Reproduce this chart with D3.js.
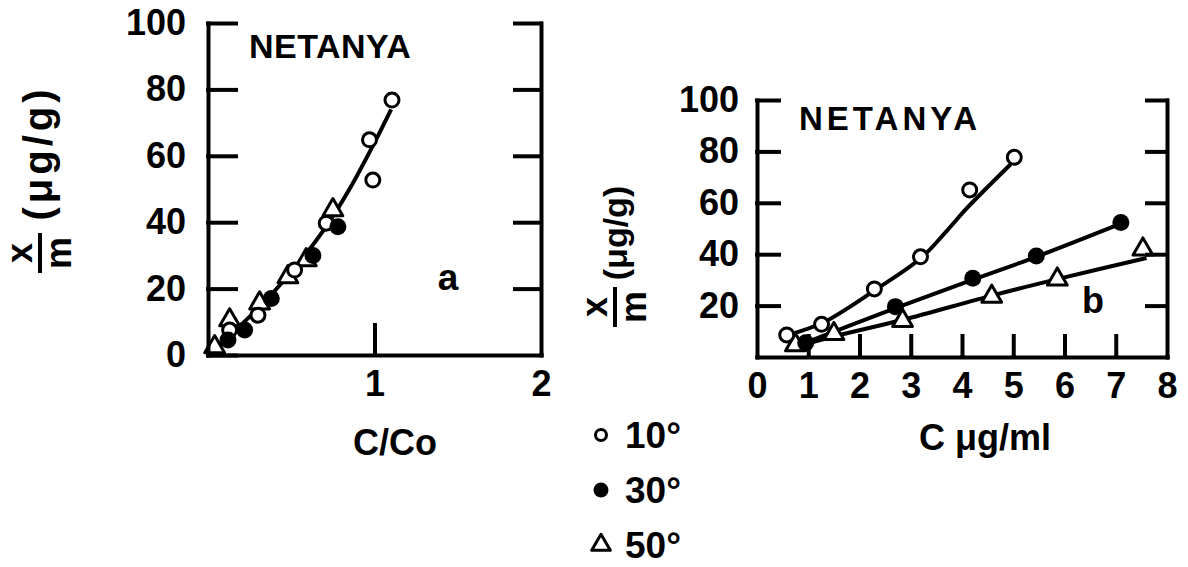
<!DOCTYPE html>
<html>
<head>
<meta charset="utf-8">
<script src="https://cdn.jsdelivr.net/npm/d3@7"></script>
<style>
    body { margin: 0; background: #fff; }
    svg text { font-family: "Liberation Sans", Arial, sans-serif; font-weight: bold; fill: #000; }
</style>
</head>
<body>
<script>
// ---- data ----
var legendLabels = ["10°", "30°", "50°"];

var leftYTicks = [0, 20, 40, 60, 80, 100];
var leftXTicks = [1, 2];
var rightYTicks = [20, 40, 60, 80, 100];
var rightXTicks = [0, 1, 2, 3, 4, 5, 6, 7, 8];

// panel a: x/m vs C/Co
var aOpen   = [[1.105, 76.8], [0.97, 64.8], [0.99, 52.7], [0.71, 39.7], [0.52, 25.6], [0.30, 12], [0.13, 7.5]];
var aFilled = [[0.78, 38.6], [0.63, 30], [0.38, 17], [0.22, 7.5], [0.12, 4.5]];
var aTri    = [[0.75, 43.7], [0.59, 28.6], [0.48, 23.5], [0.31, 15.6], [0.13, 10.5], [0.04, 2.4]];
var aCurve  = [[0, 0], [0.3, 14], [0.5, 25], [0.7, 38], [0.85, 50], [1.0, 64], [1.1, 74]];

// panel b: x/m vs C (ug/ml)
var bOpen   = [[0.58, 8.6], [1.26, 12.7], [2.29, 26.5], [3.19, 39], [4.15, 65], [5.02, 77.7]];
var bFilled = [[0.95, 5.5], [2.7, 19.6], [4.21, 30.6], [5.45, 39.3], [7.1, 52.3]];
var bTri    = [[0.75, 4.7], [1.5, 9], [2.84, 14.1], [4.58, 23.5], [5.86, 30.2], [7.53, 41.9]];
var bCurve10 = [[0.6, 8.5], [1.3, 13.5], [2.3, 26], [3.2, 38.5], [3.7, 49], [4.1, 58], [4.95, 75]];
var bCurve30 = [[0.75, 4], [2.7, 19], [4.2, 30], [5.45, 39], [7.05, 51.5]];
var bCurve50 = [[0.75, 4], [1.5, 8], [2.85, 14.5], [4.6, 24], [5.9, 30.5], [7.6, 38.5]];

(function(){

    var svg = d3.select("body")
        .append("svg")
        .attr("width", 1188)
        .attr("height", 567);

    // panel a
    var xA = d3.scaleLinear().domain([0, 2]).range([208, 541]);
    var yA = d3.scaleLinear().domain([0, 100]).range([355, 23]);

    drawCurve(svg, aCurve, xA, yA);
    drawPoints(svg, aTri, xA, yA, "tri");
    drawPoints(svg, aOpen, xA, yA, "open");
    drawPoints(svg, aFilled, xA, yA, "filled");
    drawAxes(svg, xA, yA, {
        yTicks: leftYTicks, xTicks: leftXTicks,
        yTick: 28, yTickR: 26, xTick: 30, yPad: 22, xPad: 15,
        yTickRight: [20, 40, 60, 80, 100], xTickMarks: [1]
    });

    svg.append("text").attr("x", 249).attr("y", 58)
        .attr("font-size", 34).attr("letter-spacing", 0.5)
        .text("NETANYA");
    svg.append("text").attr("x", 448).attr("y", 290)
        .attr("text-anchor", "middle").attr("font-size", 37)
        .text("a");
    svg.append("text").attr("x", 395).attr("y", 455)
        .attr("text-anchor", "middle").attr("font-size", 36)
        .text("C/Co");
    yLabel(svg, 40, 253, 100, 40, 4);

    // panel b
    var xB = d3.scaleLinear().domain([0, 8]).range([757, 1167]);
    var yB = d3.scaleLinear().domain([0, 100]).range([357, 100]);

    drawCurve(svg, bCurve10, xB, yB);
    drawCurve(svg, bCurve30, xB, yB);
    drawCurve(svg, bCurve50, xB, yB);
    drawPoints(svg, bTri, xB, yB, "tri");
    drawPoints(svg, bOpen, xB, yB, "open");
    drawPoints(svg, bFilled, xB, yB, "filled");
    drawAxes(svg, xB, yB, {
        yTicks: rightYTicks, xTicks: rightXTicks,
        yTick: 22, yTickR: 20, xTick: 21, yPad: 18, xPad: 15,
        yTickRight: rightYTicks, xTickMarks: [1, 2, 3, 4, 5, 6, 7]
    });

    svg.append("text").attr("x", 799).attr("y", 130)
        .attr("font-size", 33).attr("letter-spacing", 4)
        .text("NETANYA");
    svg.append("text").attr("x", 1093).attr("y", 313)
        .attr("text-anchor", "middle").attr("font-size", 36)
        .text("b");
    svg.append("text").attr("x", 985).attr("y", 450)
        .attr("text-anchor", "middle").attr("font-size", 36)
        .text("C μg/ml");
    yLabel(svg, 615, 307, 74, 34, 0);

    // legend
    var types = ["open", "filled", "tri"];
    var legend = svg.selectAll(".legend")
        .data(legendLabels)
        .enter()
        .append("g")
        .attr("class", "legend")
        .attr("transform", function(d, i) {
            return "translate(601," + (435 + i * 55) + ")";
        });
    legend.each(function(d, i) {
        marker(d3.select(this), 0, 0, types[i], true);
    });
    legend.append("text")
        .attr("x", 24)
        .attr("y", 13)
        .attr("font-size", 37)
        .text(function(d) { return d; });


    function drawCurve(svg, pts, x, y) {
        var line = d3.line()
            .x(function(d) { return x(d[0]); })
            .y(function(d) { return y(d[1]); })
            .curve(d3.curveCatmullRom);
        svg.append("path")
            .attr("d", line(pts))
            .attr("fill", "none")
            .attr("stroke", "#000")
            .attr("stroke-width", 4);
    }

    function drawPoints(svg, pts, x, y, type) {
        pts.forEach(function(d) {
            marker(svg, x(d[0]), y(d[1]), type, false);
        });
    }

    function marker(sel, cx, cy, type, small) {
        if (type == "open") {
            sel.append("circle")
                .attr("cx", cx).attr("cy", cy)
                .attr("r", small ? 5.5 : 7)
                .attr("fill", "#fff")
                .attr("stroke", "#000")
                .attr("stroke-width", 3);
        } else if (type == "filled") {
            sel.append("circle")
                .attr("cx", cx).attr("cy", cy)
                .attr("r", small ? 7.5 : 8.5)
                .attr("fill", "#000");
        } else {
            sel.append("path")
                .attr("d", d3.symbol().type(d3.symbolTriangle).size(small ? 150 : 170)())
                .attr("transform", "translate(" + cx + "," + cy + ")")
                .attr("fill", "#fff")
                .attr("stroke", "#000")
                .attr("stroke-width", 3)
                .attr("stroke-linejoin", "round");
        }
    }

    function drawAxes(svg, x, y, o) {
        var x0 = x.range()[0], x1 = x.range()[1], y0 = y.range()[0];

        var left = svg.append("g")
            .attr("transform", "translate(" + x0 + ",0)")
            .call(d3.axisLeft(y).tickValues(o.yTicks).tickFormat(d3.format("d"))
                .tickSizeInner(-o.yTick).tickSizeOuter(0).tickPadding(o.yPad));

        var right = svg.append("g")
            .attr("transform", "translate(" + x1 + ",0)")
            .call(d3.axisRight(y).tickValues(o.yTickRight).tickFormat("")
                .tickSizeInner(-o.yTickR).tickSizeOuter(0));

        var bottom = svg.append("g")
            .attr("transform", "translate(0," + y0 + ")")
            .call(d3.axisBottom(x).tickValues(o.xTicks).tickFormat(d3.format("d"))
                .tickSizeInner(0).tickSizeOuter(0).tickPadding(o.xPad));

        var marks = svg.append("g")
            .attr("transform", "translate(0," + y0 + ")")
            .call(d3.axisBottom(x).tickValues(o.xTickMarks).tickFormat("")
                .tickSizeInner(-o.xTick).tickSizeOuter(0));
        marks.select(".domain").remove();

        [left, right, bottom, marks].forEach(function(g) {
            g.attr("font-size", 36)
                .attr("font-family", "Liberation Sans, Arial, sans-serif");
            g.selectAll("path, line")
                .attr("stroke", "#000")
                .attr("stroke-width", 4)
                .attr("stroke-linecap", "square");
        });
    }

    function yLabel(svg, cx, cy, shift, size, spacing) {
        var g = svg.append("g")
            .attr("transform", "translate(" + cx + "," + cy + ") rotate(-90)");
        g.append("text").attr("x", 0).attr("y", -8)
            .attr("text-anchor", "middle").attr("font-size", 36)
            .text("x");
        g.append("line")
            .attr("x1", -20).attr("x2", 20)
            .attr("stroke", "#000").attr("stroke-width", 4);
        g.append("text").attr("x", 0).attr("y", 31)
            .attr("text-anchor", "middle").attr("font-size", 36)
            .text("m");
        g.append("text").attr("x", shift).attr("y", 12)
            .attr("text-anchor", "middle").attr("font-size", size)
            .attr("letter-spacing", spacing)
            .text("(μg/g)");
    }

})();
</script>
</body>
</html>
